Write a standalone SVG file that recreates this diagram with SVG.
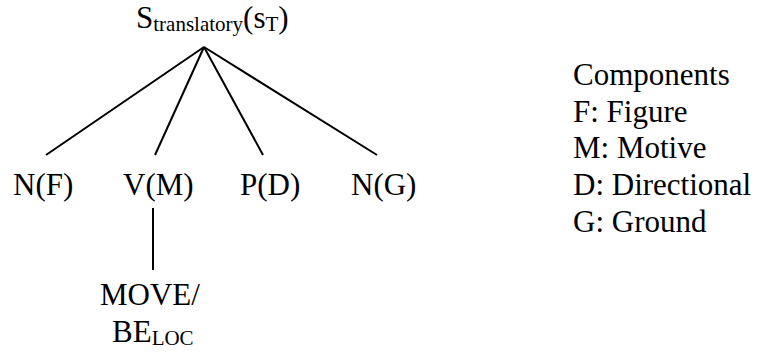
<svg xmlns="http://www.w3.org/2000/svg" width="759" height="353" viewBox="0 0 759 353">
<style>
text{font-family:"Liberation Serif","Times New Roman",serif;font-size:31px;fill:#000}
.sub{font-size:21px}
.edge{stroke:#000;stroke-width:2;fill:none;stroke-linecap:butt}
</style>
<rect width="759" height="353" fill="#fff"/>
<g id="connectors">
<line class="edge" x1="204" y1="47" x2="46" y2="155"/>
<line class="edge" x1="204" y1="47" x2="155" y2="155"/>
<line class="edge" x1="204" y1="47" x2="263" y2="155"/>
<line class="edge" x1="204" y1="47" x2="377" y2="155"/>
<line class="edge" x1="153" y1="208" x2="153" y2="270"/>
</g>
<g id="root">
<text x="136" y="28">S<tspan class="sub" dy="3">translatory</tspan><tspan dy="-3">(s</tspan><tspan class="sub" dy="3">T</tspan><tspan dy="-3">)</tspan></text>
</g>
<g id="nF"><text x="13" y="195">N(F)</text></g>
<g id="vM"><text x="123" y="195">V(M)</text></g>
<g id="pD"><text x="240" y="195">P(D)</text></g>
<g id="nG"><text x="351" y="195">N(G)</text></g>
<g id="move">
<text x="100" y="305">MOVE/</text>
<text x="112" y="342">BE<tspan class="sub" dy="3">LOC</tspan></text>
</g>
<g id="legend">
<text x="573" y="85">Components</text>
<text x="573" y="122">F: Figure</text>
<text x="573" y="158">M: Motive</text>
<text x="573" y="195">D: Directional</text>
<text x="573" y="232">G: Ground</text>
</g>
</svg>
